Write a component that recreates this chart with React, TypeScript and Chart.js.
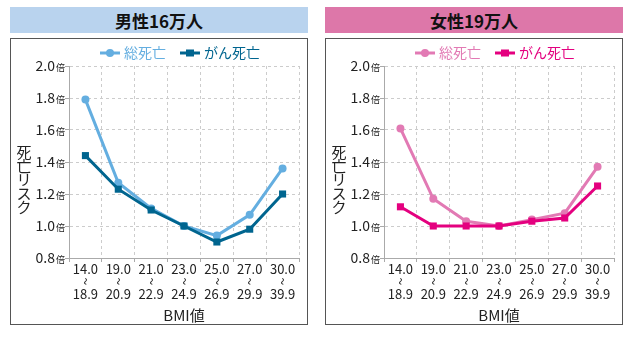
import React, { useEffect, useRef } from "react";
import { Chart, registerables } from "chart.js";
Chart.register(...registerables);

const FONT = '"Noto Sans CJK JP", "Noto Sans", sans-serif';

const bmiFrom = ["14.0", "19.0", "21.0", "23.0", "25.0", "27.0", "30.0"];
const bmiTo = ["18.9", "20.9", "22.9", "24.9", "26.9", "29.9", "39.9"];
const yTickValues = [0.8, 1.0, 1.2, 1.4, 1.6, 1.8, 2.0];
const yTickLabels = ["0.8", "1.0", "1.2", "1.4", "1.6", "1.8", "2.0"];
const yUnit = "倍";
const yTitle = "死亡リスク";
const xTitle = "BMI値";
const seriesNames = ["総死亡", "がん死亡"];

const maleTotal = [1.79, 1.27, 1.11, 1.0, 0.94, 1.07, 1.36];
const maleCancer = [1.44, 1.23, 1.1, 1.0, 0.9, 0.98, 1.2];
const femaleTotal = [1.61, 1.17, 1.03, 1.0, 1.04, 1.08, 1.37];
const femaleCancer = [1.12, 1.0, 1.0, 1.0, 1.03, 1.05, 1.25];

const CW = 296;
const CH = 285;

type PanelProps = {
  left: number;
  title: string;
  headerColor: string;
  totalColor: string;
  cancerColor: string;
  total: number[];
  cancer: number[];
};

function Panel({ left, title, headerColor, totalColor, cancerColor, total, cancer }: PanelProps) {
  const ref = useRef<HTMLCanvasElement>(null);

  useEffect(() => {
    if (!ref.current) return;
    const textPlugin = {
      id: "customText",
      afterDraw(chart: any) {
        const ctx = chart.ctx as CanvasRenderingContext2D;
        const xs = chart.scales.x;
        const ys = chart.scales.y;
        const area = chart.chartArea;
        ctx.save();
        ctx.fillStyle = "#222";
        // y tick labels
        yTickValues.forEach((v, i) => {
          const py = ys.getPixelForValue(v);
          ctx.font = `14px ${FONT}`;
          ctx.textAlign = "right";
          ctx.textBaseline = "alphabetic";
          ctx.fillText(yTickLabels[i], 44, py + 5);
          ctx.font = `9px ${FONT}`;
          ctx.textAlign = "left";
          ctx.fillText(yUnit, 45, py + 5);
        });
        // x tick labels
        bmiFrom.forEach((lab, i) => {
          const px = xs.getPixelForValue(i);
          ctx.font = `13px ${FONT}`;
          ctx.textAlign = "center";
          ctx.textBaseline = "middle";
          ctx.fillText(lab, px, 230);
          ctx.fillText(bmiTo[i], px, 255);
          ctx.save();
          ctx.translate(px, 242.5);
          ctx.rotate(Math.PI / 2);
          ctx.font = `14px ${FONT}`;
          ctx.fillText("~", 0, 0);
          ctx.restore();
        });
        // x title
        ctx.font = `15px ${FONT}`;
        ctx.textAlign = "center";
        ctx.textBaseline = "middle";
        ctx.fillText(xTitle, (area.left + area.right) / 2, 276);
        // y title (vertical stacked)
        ctx.font = `15px ${FONT}`;
        Array.from(yTitle).forEach((ch, i) => {
          ctx.fillText(ch, 13, 113 + i * 13.8);
        });
        // legend
        const items = [
          { x: 89, name: seriesNames[0], color: totalColor, style: "circle" },
          { x: 169, name: seriesNames[1], color: cancerColor, style: "rect" },
        ];
        items.forEach((it) => {
          const ly = 14;
          ctx.strokeStyle = it.color;
          ctx.fillStyle = it.color;
          ctx.lineWidth = 3;
          ctx.beginPath();
          ctx.moveTo(it.x, ly);
          ctx.lineTo(it.x + 20, ly);
          ctx.stroke();
          if (it.style === "circle") {
            ctx.beginPath();
            ctx.arc(it.x + 10, ly, 4, 0, Math.PI * 2);
            ctx.fill();
          } else {
            ctx.fillRect(it.x + 6, ly - 3.5, 8, 7);
          }
          ctx.font = `14px ${FONT}`;
          ctx.textAlign = "left";
          ctx.textBaseline = "middle";
          ctx.fillText(it.name, it.x + 24, ly);
        });
        ctx.restore();
      },
    };

    const chart = new Chart(ref.current, {
      type: "line",
      data: {
        labels: bmiFrom.map((f, i) => `${f}~${bmiTo[i]}`),
        datasets: [
          {
            label: seriesNames[1],
            data: cancer,
            borderColor: cancerColor,
            backgroundColor: cancerColor,
            borderWidth: 3,
            pointStyle: "rect",
            pointRadius: 5,
            pointBorderWidth: 0,
            order: 0,
          },
          {
            label: seriesNames[0],
            data: total,
            borderColor: totalColor,
            backgroundColor: totalColor,
            borderWidth: 3,
            pointStyle: "circle",
            pointRadius: 4,
            pointBorderWidth: 0,
            order: 1,
          },
        ],
      },
      options: {
        responsive: false,
        animation: false,
        layout: { padding: { top: 27, right: 8, left: 0, bottom: 0 } },
        plugins: { legend: { display: false }, tooltip: { enabled: false } },
        scales: {
          x: {
            type: "category",
            offset: true,
            grid: { offset: true, color: "#cccccc", tickColor: "#aaa", tickLength: 4, lineWidth: 1 },
            border: { color: "#aaa", dash: [3, 3] },
            ticks: { display: false },
            afterFit: (s: any) => {
              s.height = 66;
            },
          },
          y: {
            min: 0.8,
            max: 2.0,
            ticks: { stepSize: 0.2, display: false },
            grid: { color: "#cccccc", tickColor: "#aaa", tickLength: 4, lineWidth: 1 },
            border: { color: "#aaa", dash: [3, 3] },
            afterFit: (s: any) => {
              s.width = 58;
            },
          },
        },
      } as any,
      plugins: [textPlugin],
    });
    return () => chart.destroy();
  }, []);

  return (
    <>
      <div
        style={{
          position: "absolute",
          left,
          top: 7,
          width: 298,
          height: 26,
          background: headerColor,
          color: "#111",
          font: `bold 17px ${FONT}`,
          display: "flex",
          alignItems: "center",
          justifyContent: "center",
        }}
      >
        {title}
      </div>
      <div
        style={{
          position: "absolute",
          left,
          top: 38,
          width: 298,
          height: 287,
          boxSizing: "border-box",
          border: "1px solid #555",
          background: "#fff",
        }}
      >
        <canvas ref={ref} width={CW} height={CH} style={{ display: "block", width: CW, height: CH }} />
      </div>
    </>
  );
}

export default function App() {
  return (
    <div style={{ position: "absolute", left: 0, top: 0, width: 630, height: 339, background: "#fff", overflow: "hidden" }}>
      <Panel
        left={10}
        title="男性16万人"
        headerColor="#b9d3ee"
        totalColor="#64aee0"
        cancerColor="#00658f"
        total={maleTotal}
        cancer={maleCancer}
      />
      <Panel
        left={325}
        title="女性19万人"
        headerColor="#dd77a9"
        totalColor="#e27ab4"
        cancerColor="#e4007f"
        total={femaleTotal}
        cancer={femaleCancer}
      />
    </div>
  );
}
